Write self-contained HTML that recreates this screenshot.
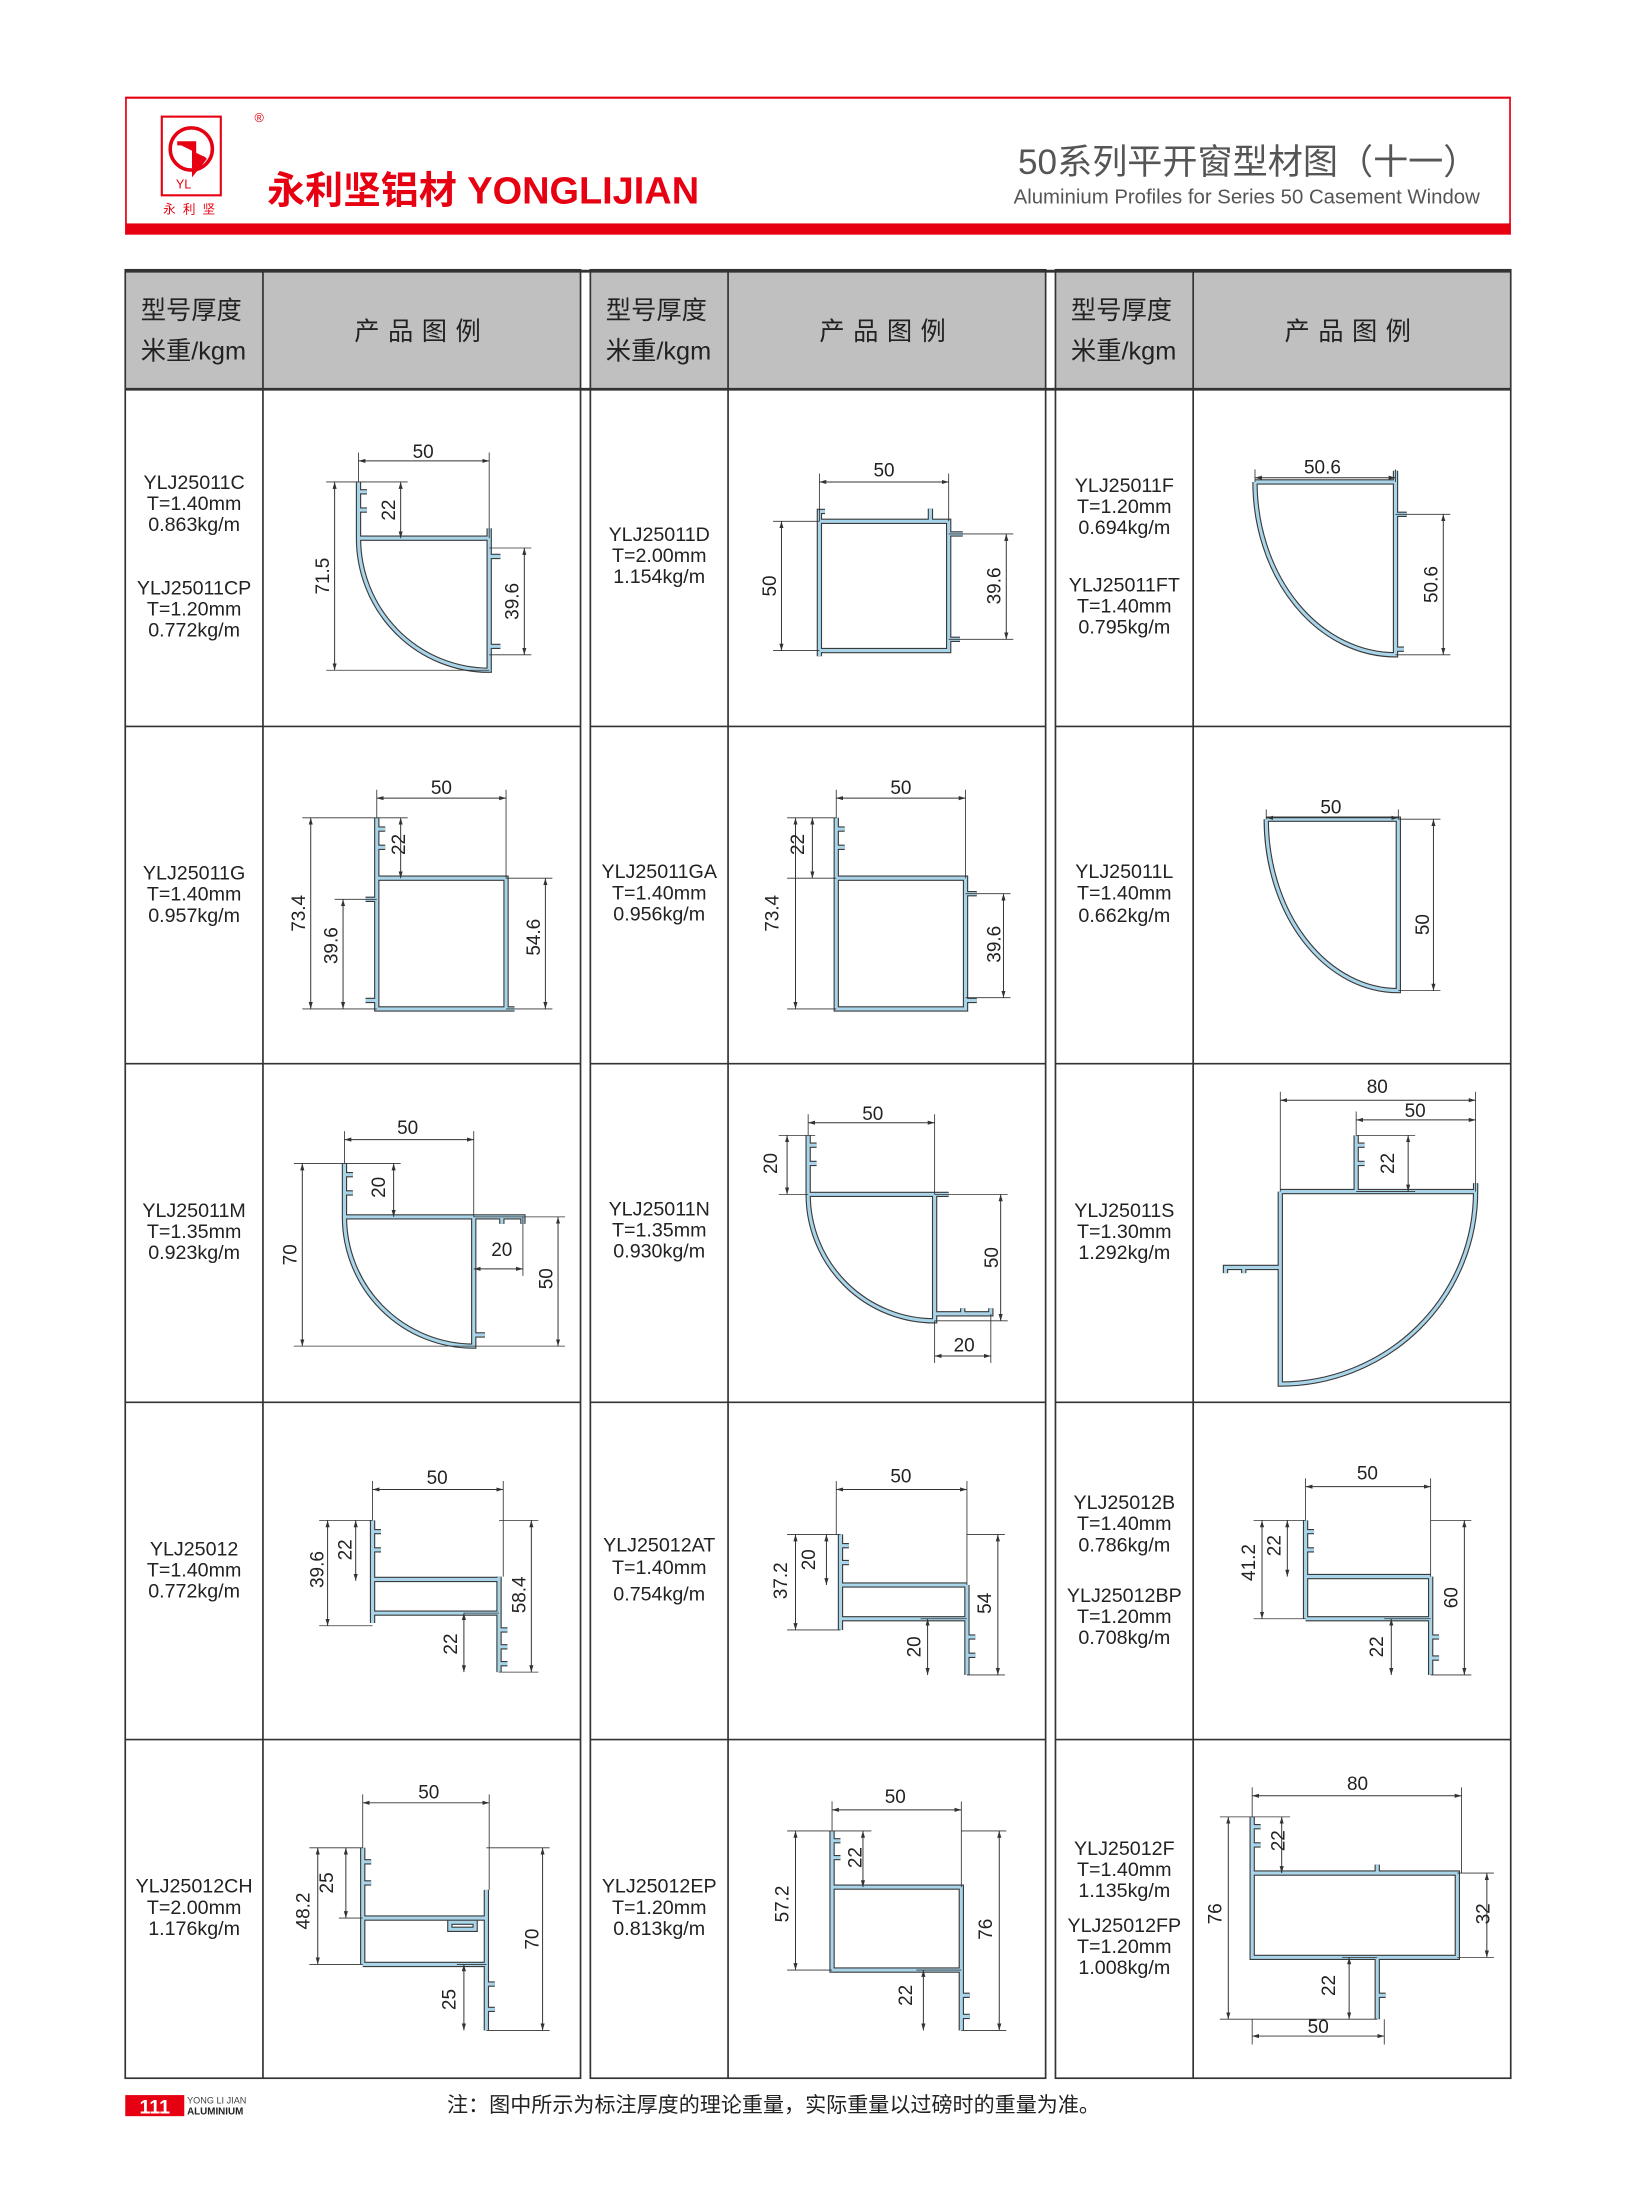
<!DOCTYPE html>
<html><head><meta charset="utf-8"><style>
html,body{margin:0;padding:0;background:#fff}
svg{display:block}
.t{font-family:"Liberation Sans","Noto Sans CJK SC",sans-serif}
.w{fill:none;stroke:#3a3a3a;stroke-width:3.8;stroke-linejoin:miter}
.i{fill:none;stroke:#a9d5ea;stroke-width:2.2;stroke-linejoin:miter}
.d{stroke:#333;stroke-width:0.7;fill:none}
.x{stroke:#333;stroke-width:0.6;fill:none}
.g{stroke:#333;stroke-width:1.2;fill:none}
.lab{font-family:"Liberation Sans",sans-serif;font-size:13.5px;fill:#222;text-anchor:middle}
.nm{font-family:"Liberation Sans",sans-serif;font-size:14px;fill:#222;text-anchor:middle}
.hd{font-family:"Liberation Sans","Noto Sans CJK SC",sans-serif;font-size:18px;fill:#222}
</style></head><body>
<svg width="1635" height="2203" viewBox="0 0 1163.3 1567.8" xmlns="http://www.w3.org/2000/svg">
<defs>
<marker id="a" viewBox="0 0 10 10" refX="10" refY="5" markerWidth="7" markerHeight="7" orient="auto-start-reverse"><path d="M0,2 L10,5 L0,8 z" fill="#333"/></marker>
<path id="p1" d="M255,343 V383 A93,94 0 0 0 348,477 V383 H255 M255,350 h6 M255,363 h6 M348,383 v-7 M348,396 h8 M348,460 h8"/>
<path id="p2" d="M583,371 H675 V463 H583 Z M583,371 v-7 h4 M662,371 v-9 M675,380 h10 M675,455 h8 M583,463 v4"/>
<path id="p3" d="M893,343 H993 V466 A100,123 0 0 1 893,343 M993,343 v-8 M993,366 h8 M993,462 h6"/>
<path id="p4" d="M268,582 V718 H360 V625 H268 M268,590 h6 M268,603 h6 M268,640 h-8 M268,712 h-8 M360,718 h6"/>
<path id="p5" d="M595,582 V718 H687 V625 H595 M595,590 h6 M595,603 h6 M687,636 h8 M687,712 h8"/>
<path id="p6" d="M901,583 H995 V705 A94,122 0 0 1 901,583"/>
<path id="p7" d="M245,828 V866 A92,92 0 0 0 337,958 V866 H245 M245,836 h6 M245,849 h6 M337,866 h35 v5 M357,866 v5 M337,950 h8"/>
<path id="p8" d="M575,808 V850 A90,90 0 0 0 665,940 V850 H575 M575,815 h6 M575,828 h6 M665,850 h10 M665,935 h40 v-4 M685,935 v-4"/>
<path id="p9" d="M965,808 V848 M911,848 H1050 A139,137 0 0 1 911,985 V848 M965,815 h6 M965,828 h6 M911,902 H872 v4 M885,902 v4 M1050,848 v-6"/>
<path id="p10" d="M265,1082 V1155 M355,1122 V1190 M265,1124 H355 M265,1148 H355 M265,1090 h6 M265,1103 h6 M355,1160 h6 M355,1172 h6 M355,1184 h6"/>
<path id="p11" d="M598,1092 V1160 M688,1128 V1192 M598,1128 H688 M598,1152 H688 M598,1100 h6 M598,1112 h6 M688,1165 h6 M688,1178 h6"/>
<path id="p12" d="M929,1082 V1152 M1018,1122 V1192 M929,1122 H1018 M929,1152 H1018 M929,1090 h6 M929,1103 h6 M1018,1165 h6 M1018,1180 h6"/>
<path id="p13" d="M258,1315 V1398 M346,1345 V1445 M258,1365 H346 M258,1398 H346 M258,1325 h6 M258,1340 h6 M320,1368 h18 v5 h-18 z M346,1412 h6 M346,1430 h6"/>
<path id="p14" d="M592,1303 V1402 H684 V1343 H592 M684,1402 V1445 M592,1310 h6 M592,1322 h6 M684,1420 h6 M684,1435 h6"/>
<path id="p15" d="M891,1293 V1393 H1037 V1333 H891 M980,1393 V1437 M891,1300 h6 M891,1313 h6 M980,1333 v-6 M980,1420 h6"/>
</defs>

<!-- header -->
<line x1="89" y1="69.5" x2="1075" y2="69.5" stroke="#e60012" stroke-width="1.5"/>
<line x1="89.5" y1="69" x2="89.5" y2="167" stroke="#e60012" stroke-width="1.2"/>
<line x1="1074.5" y1="69" x2="1074.5" y2="167" stroke="#e60012" stroke-width="1.2"/>
<rect x="89" y="159" width="986" height="8" fill="#e60012"/>
<rect x="115" y="83" width="42" height="56" fill="none" stroke="#e60012" stroke-width="1.5"/>
<circle cx="136" cy="106" r="15" fill="none" stroke="#e60012" stroke-width="2.5"/>
<path d="M126,102 h12 v20 l8,-10" fill="#e60012" stroke="#e60012" stroke-width="3"/>
<text x="125" y="134" font-size="9" fill="#e60012" class="t">YL</text>
<text x="181" y="87" font-size="9" fill="#e60012" class="t">®</text>
<text x="116" y="152" font-size="9" fill="#e60012" class="t" letter-spacing="5">永利坚</text>
<text x="190" y="145" font-size="27" font-weight="bold" fill="#e60012" class="t">永利坚铝材 YONGLIJIAN</text>
<text x="1052" y="124" font-size="25" fill="#555" text-anchor="end" class="t">50系列平开窗型材图（十一）</text>
<text x="1053" y="145" font-size="14.5" fill="#555" text-anchor="end" class="t">Aluminium Profiles for Series 50 Casement Window</text>

<!-- table panels -->
<g>
<rect x="89" y="192" width="324" height="85" fill="#c0c0c0"/>
<rect x="420" y="192" width="324" height="85" fill="#c0c0c0"/>
<rect x="751" y="192" width="324" height="85" fill="#c0c0c0"/>
<rect x="89" y="192" width="324" height="1287" class="g"/>
<rect x="420" y="192" width="324" height="1287" class="g"/>
<rect x="751" y="192" width="324" height="1287" class="g"/>
<line x1="187" y1="192" x2="187" y2="1479" class="g"/>
<line x1="518" y1="192" x2="518" y2="1479" class="g"/>
<line x1="849" y1="192" x2="849" y2="1479" class="g"/>
<g class="g">
<path d="M89,277H413M89,517H413M89,757H413M89,998H413M89,1238H413"/>
<path d="M420,277H744M420,517H744M420,757H744M420,998H744M420,1238H744"/>
<path d="M751,277H1075M751,517H1075M751,757H1075M751,998H1075M751,1238H1075"/>
</g>
<line x1="89" y1="193" x2="1075" y2="193" stroke="#333" stroke-width="2"/>
<line x1="89" y1="277" x2="1075" y2="277" stroke="#333" stroke-width="2"/>
<text x="100" y="227" class="hd">型号厚度</text><text x="100" y="256" class="hd">米重/kgm</text>
<text x="431" y="227" class="hd">型号厚度</text><text x="431" y="256" class="hd">米重/kgm</text>
<text x="762" y="227" class="hd">型号厚度</text><text x="762" y="256" class="hd">米重/kgm</text>
<text x="300" y="242" class="hd" text-anchor="middle" letter-spacing="6">产品图例</text>
<text x="631" y="242" class="hd" text-anchor="middle" letter-spacing="6">产品图例</text>
<text x="962" y="242" class="hd" text-anchor="middle" letter-spacing="6">产品图例</text>
</g>

<!-- names -->
<g class="nm">
<text x="138" y="348">YLJ25011C</text><text x="138" y="363">T=1.40mm</text><text x="138" y="378">0.863kg/m</text>
<text x="138" y="423">YLJ25011CP</text><text x="138" y="438">T=1.20mm</text><text x="138" y="453">0.772kg/m</text>
<text x="469" y="385">YLJ25011D</text><text x="469" y="400">T=2.00mm</text><text x="469" y="415">1.154kg/m</text>
<text x="800" y="350">YLJ25011F</text><text x="800" y="365">T=1.20mm</text><text x="800" y="380">0.694kg/m</text>
<text x="800" y="421">YLJ25011FT</text><text x="800" y="436">T=1.40mm</text><text x="800" y="451">0.795kg/m</text>
<text x="138" y="626">YLJ25011G</text><text x="138" y="641">T=1.40mm</text><text x="138" y="656">0.957kg/m</text>
<text x="469" y="625">YLJ25011GA</text><text x="469" y="640">T=1.40mm</text><text x="469" y="655">0.956kg/m</text>
<text x="800" y="625">YLJ25011L</text><text x="800" y="640">T=1.40mm</text><text x="800" y="656">0.662kg/m</text>
<text x="138" y="866">YLJ25011M</text><text x="138" y="881">T=1.35mm</text><text x="138" y="896">0.923kg/m</text>
<text x="469" y="865">YLJ25011N</text><text x="469" y="880">T=1.35mm</text><text x="469" y="895">0.930kg/m</text>
<text x="800" y="866">YLJ25011S</text><text x="800" y="881">T=1.30mm</text><text x="800" y="896">1.292kg/m</text>
<text x="138" y="1107">YLJ25012</text><text x="138" y="1122">T=1.40mm</text><text x="138" y="1137">0.772kg/m</text>
<text x="469" y="1104">YLJ25012AT</text><text x="469" y="1120">T=1.40mm</text><text x="469" y="1139">0.754kg/m</text>
<text x="800" y="1074">YLJ25012B</text><text x="800" y="1089">T=1.40mm</text><text x="800" y="1104">0.786kg/m</text>
<text x="800" y="1140">YLJ25012BP</text><text x="800" y="1155">T=1.20mm</text><text x="800" y="1170">0.708kg/m</text>
<text x="138" y="1347">YLJ25012CH</text><text x="138" y="1362">T=2.00mm</text><text x="138" y="1377">1.176kg/m</text>
<text x="469" y="1347">YLJ25012EP</text><text x="469" y="1362">T=1.20mm</text><text x="469" y="1377">0.813kg/m</text>
<text x="800" y="1320">YLJ25012F</text><text x="800" y="1335">T=1.40mm</text><text x="800" y="1350">1.135kg/m</text>
<text x="800" y="1375">YLJ25012FP</text><text x="800" y="1390">T=1.20mm</text><text x="800" y="1405">1.008kg/m</text>
</g>

<!-- profiles -->
<g class="w"><use href="#p1"/><use href="#p2"/><use href="#p3"/><use href="#p4"/><use href="#p5"/><use href="#p6"/><use href="#p7"/><use href="#p8"/><use href="#p9"/><use href="#p10"/><use href="#p11"/><use href="#p12"/><use href="#p13"/><use href="#p14"/><use href="#p15"/></g>
<g class="i"><use href="#p1"/><use href="#p2"/><use href="#p3"/><use href="#p4"/><use href="#p5"/><use href="#p6"/><use href="#p7"/><use href="#p8"/><use href="#p9"/><use href="#p10"/><use href="#p11"/><use href="#p12"/><use href="#p13"/><use href="#p14"/><use href="#p15"/></g>

<!-- dimension lines -->
<g class="d" marker-start="url(#a)" marker-end="url(#a)">
<path d="M255,328H348"/><path d="M285,343V383"/><path d="M238,343V477"/><path d="M373,390V466"/>
<path d="M583,343H675"/><path d="M556,371V463"/><path d="M716,380V455"/>
<path d="M893,340H993"/><path d="M1027,366V466"/>
<path d="M268,568H360"/><path d="M285,582V625"/><path d="M221,582V718"/><path d="M244,640V718"/><path d="M388,625V718"/>
<path d="M595,568H687"/><path d="M578,582V625"/><path d="M566,582V718"/><path d="M714,636V710"/>
<path d="M901,582H995"/><path d="M1020,583V705"/>
<path d="M245,811H337"/><path d="M280,828V866"/><path d="M215,828V958"/><path d="M337,903H372"/><path d="M397,866V958"/>
<path d="M575,799H665"/><path d="M560,808V850"/><path d="M712,850V940"/><path d="M665,965H705"/>
<path d="M911,783H1050"/><path d="M965,797H1050"/><path d="M1002,808V848"/>
<path d="M265,1060H358"/><path d="M233,1082V1157"/><path d="M253,1082V1125"/><path d="M378,1082V1190"/><path d="M330,1148V1190"/>
<path d="M595,1060H688"/><path d="M566,1092V1160"/><path d="M588,1092V1128"/><path d="M710,1092V1192"/><path d="M660,1152V1192"/>
<path d="M929,1058H1018"/><path d="M898,1082V1152"/><path d="M916,1082V1122"/><path d="M1042,1082V1192"/><path d="M990,1152V1192"/>
<path d="M258,1283H348"/><path d="M226,1315V1398"/><path d="M246,1315V1365"/><path d="M386,1315V1445"/><path d="M330,1398V1445"/>
<path d="M592,1288H684"/><path d="M566,1303V1402"/><path d="M614,1303V1343"/><path d="M711,1303V1445"/><path d="M657,1402V1445"/>
<path d="M891,1278H1040"/><path d="M912,1293V1333"/><path d="M874,1293V1437"/><path d="M1058,1333V1393"/><path d="M960,1393V1437"/><path d="M891,1449H985"/>
</g>
<!-- extension lines -->
<g class="x">
<path d="M255,322V343M348,322V383M255,343H290M232,343H255M232,477H348M348,390H378M348,466H378"/>
<path d="M583,337V371M675,337V371M550,371H583M550,463H583M675,380H721M675,455H721"/>
<path d="M893,334V343M993,334V343M993,366H1032M993,466H1032"/>
<path d="M268,562V582M360,562V625M215,582H290M215,718H268M238,640H268M360,625H393M360,718H393"/>
<path d="M595,562V582M687,562V625M560,582H595M560,718H595M560,625H595M687,636H719M687,710H719"/>
<path d="M901,576V583M995,576V583M995,583H1025M995,705H1025"/>
<path d="M245,805V828M337,805V866M209,828H285M209,958H337M372,866V908M337,866H402M337,958H402"/>
<path d="M575,793V808M665,793V850M554,808H580M554,850H575M665,850H717M665,940H717M665,940V970M705,935V970"/>
<path d="M911,777V848M1050,777V848M965,791V808M965,808H1007M965,848H1007"/>
<path d="M265,1054V1082M358,1054V1122M227,1082H265M227,1157H265M355,1082H383M355,1190H383M330,1148H355"/>
<path d="M595,1054V1092M688,1054V1128M560,1092H598M560,1160H598M688,1092H715M688,1192H715M655,1152H688"/>
<path d="M929,1052V1082M1018,1052V1122M892,1082H929M892,1152H929M1018,1082H1047M1018,1192H1047M985,1152H1018"/>
<path d="M258,1277V1315M348,1277V1345M220,1315H258M220,1398H258M241,1365H258M346,1315H391M346,1445H391M325,1398H346"/>
<path d="M592,1282V1303M684,1282V1343M560,1303H620M560,1402H592M684,1303H716M684,1445H716M652,1402H684"/>
<path d="M891,1272V1293M1040,1272V1333M868,1293H918M868,1437H980M1037,1333H1063M1037,1393H1063M891,1437V1455M985,1437V1455M955,1393H980"/>
</g>
<!-- dimension labels -->
<g class="lab">
<text x="301" y="326">50</text><text transform="translate(281,363) rotate(-90)">22</text><text transform="translate(234,410) rotate(-90)">71.5</text><text transform="translate(369,428) rotate(-90)">39.6</text>
<text x="629" y="339">50</text><text transform="translate(552,417) rotate(-90)">50</text><text transform="translate(712,417) rotate(-90)">39.6</text>
<text x="941" y="337">50.6</text><text transform="translate(1023,416) rotate(-90)">50.6</text>
<text x="314" y="565">50</text><text transform="translate(288,601) rotate(-90)">22</text><text transform="translate(217,650) rotate(-90)">73.4</text><text transform="translate(240,673) rotate(-90)">39.6</text><text transform="translate(384,667) rotate(-90)">54.6</text>
<text x="641" y="565">50</text><text transform="translate(572,601) rotate(-90)">22</text><text transform="translate(554,650) rotate(-90)">73.4</text><text transform="translate(712,672) rotate(-90)">39.6</text>
<text x="947" y="579">50</text><text transform="translate(1017,658) rotate(-90)">50</text>
<text x="290" y="807">50</text><text transform="translate(274,845) rotate(-90)">20</text><text transform="translate(211,893) rotate(-90)">70</text><text x="357" y="894">20</text><text transform="translate(393,910) rotate(-90)">50</text>
<text x="621" y="797">50</text><text transform="translate(553,828) rotate(-90)">20</text><text transform="translate(710,895) rotate(-90)">50</text><text x="686" y="962">20</text>
<text x="980" y="778">80</text><text x="1007" y="795">50</text><text transform="translate(992,828) rotate(-90)">22</text>
<text x="311" y="1056">50</text><text transform="translate(230,1117) rotate(-90)">39.6</text><text transform="translate(250,1103) rotate(-90)">22</text><text transform="translate(374,1135) rotate(-90)">58.4</text><text transform="translate(325,1170) rotate(-90)">22</text>
<text x="641" y="1055">50</text><text transform="translate(560,1125) rotate(-90)">37.2</text><text transform="translate(580,1110) rotate(-90)">20</text><text transform="translate(705,1141) rotate(-90)">54</text><text transform="translate(655,1172) rotate(-90)">20</text>
<text x="973" y="1053">50</text><text transform="translate(893,1112) rotate(-90)">41.2</text><text transform="translate(911,1100) rotate(-90)">22</text><text transform="translate(1037,1137) rotate(-90)">60</text><text transform="translate(984,1172) rotate(-90)">22</text>
<text x="305" y="1280">50</text><text transform="translate(220,1360) rotate(-90)">48.2</text><text transform="translate(237,1340) rotate(-90)">25</text><text transform="translate(383,1380) rotate(-90)">70</text><text transform="translate(324,1423) rotate(-90)">25</text>
<text x="637" y="1283">50</text><text transform="translate(561,1355) rotate(-90)">57.2</text><text transform="translate(613,1322) rotate(-90)">22</text><text transform="translate(706,1373) rotate(-90)">76</text><text transform="translate(649,1420) rotate(-90)">22</text>
<text x="966" y="1274">80</text><text transform="translate(914,1310) rotate(-90)">22</text><text transform="translate(869,1362) rotate(-90)">76</text><text transform="translate(1060,1362) rotate(-90)">32</text><text transform="translate(950,1413) rotate(-90)">22</text><text x="938" y="1447">50</text>
</g>

<!-- footer -->
<rect x="89" y="1491" width="42" height="15" fill="#e60012"/>
<text x="110" y="1504" font-size="14" font-weight="bold" fill="#fff" text-anchor="middle" class="t">111</text>
<text x="133" y="1497" font-size="6.5" fill="#444" class="t">YONG LI JIAN</text>
<text x="133" y="1505" font-size="7" font-weight="bold" fill="#222" class="t">ALUMINIUM</text>
<text x="318" y="1503" font-size="15" fill="#222" class="t">注：图中所示为标注厚度的理论重量，实际重量以过磅时的重量为准。</text>
</svg>
</body></html>
